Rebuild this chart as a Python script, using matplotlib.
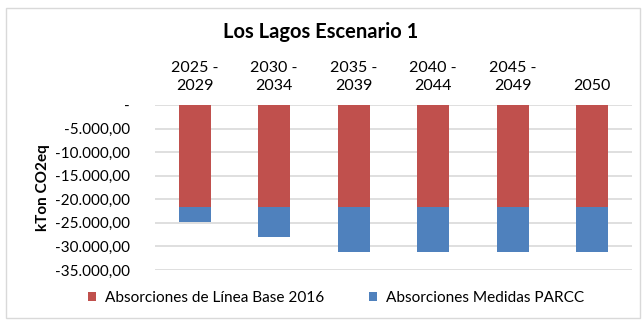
import matplotlib.pyplot as plt
import numpy as np
from matplotlib.patches import Rectangle

plt.rcParams['font.family'] = ['Lato', 'DejaVu Sans']

periodos = ["2025 -\n2029", "2030 -\n2034", "2035 -\n2039", "2040 -\n2044", "2045 -\n2049", "2050"]
linea_base = [-21600, -21600, -21600, -21600, -21600, -21600]
medidas = [-3200, -6300, -9600, -9600, -9600, -9600]
yticks = np.arange(0, -35001, -5000)

def fmt_miles(v):
    if v == 0:
        return "-"
    s = f"{abs(v):,.2f}".replace(",", "X").replace(".", ",").replace("X", ".")
    return "-" + s

fig = plt.figure(figsize=(6.42, 3.24), dpi=100)
ax = fig.add_axes([155/642, 1 - 270/324, (632-155)/642, (270-105)/324])

x = np.arange(len(periodos))
ax.bar(x, linea_base, width=0.4, color="#c0504d", label="Absorciones de Línea Base 2016", zorder=3)
ax.bar(x, medidas, width=0.4, bottom=linea_base, color="#4f81bd", label="Absorciones Medidas PARCC", zorder=3)

ax.set_xlim(-0.5, len(periodos) - 0.5)
ax.set_ylim(-35000, 0)
ax.set_yticks(yticks)
ax.set_yticklabels([fmt_miles(v) for v in yticks], fontsize=11)
ax.xaxis.tick_top()
ax.set_xticks(x)
ax.set_xticklabels(periodos, fontsize=11.5, linespacing=1.3)
ax.tick_params(length=0, pad=9)
ax.tick_params(axis='y', pad=18)
ax.grid(axis='y', color="#d9d9d9", linewidth=1.2, zorder=0)
for s in ax.spines.values():
    s.set_visible(False)

ax.set_ylabel("kTon CO2eq", fontsize=11, fontweight="bold")
ax.yaxis.set_label_coords(-0.22, 0.5)
fig.text(0.5, 1 - 32/324, "Los Lagos Escenario 1", ha="center", va="center", fontsize=14.5, fontweight="bold")

fs = 11.1
em = fs * 100 / 72
fig.legend(loc="center left", bbox_to_anchor=((80 - 0.4 * em) / 642, 1 - 298/324), ncol=2, frameon=False,
           fontsize=fs, handlelength=8/em, handleheight=8/em, columnspacing=45/em, handletextpad=9/em)

fig.patches.append(Rectangle((6/642, 1 - 318/324), 634/642, 310/324, transform=fig.transFigure,
                             fill=False, edgecolor="#d9d9d9", linewidth=1))

fig.savefig("out.png", dpi=100)
